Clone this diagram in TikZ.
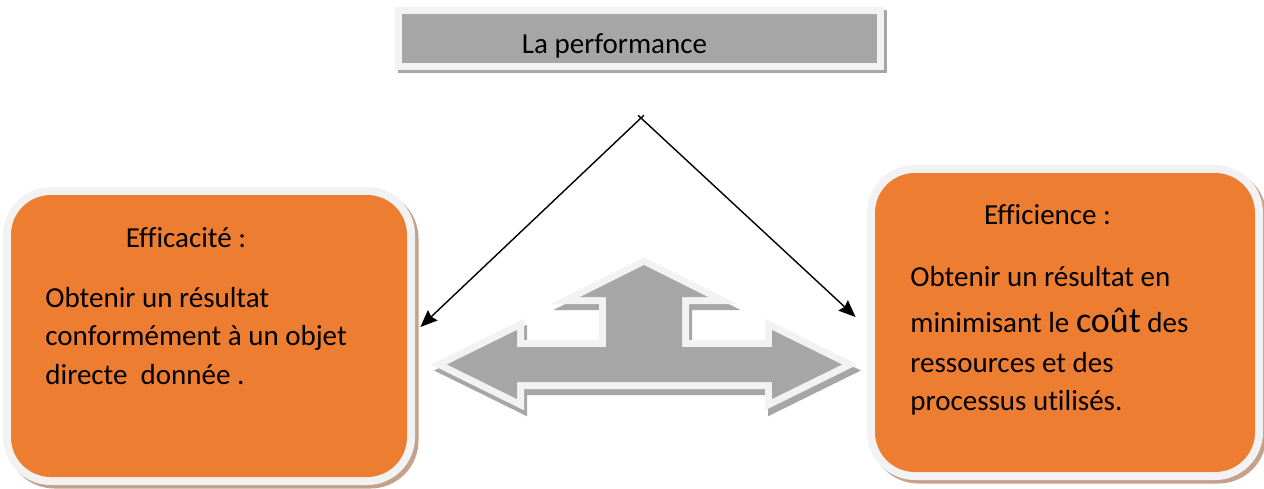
\documentclass[tikz,border=0pt]{standalone}
\usepackage{fontspec}
\setmainfont{Carlito}[Ligatures=NoCommon]
\usetikzlibrary{arrows.meta, positioning}
\definecolor{boxorange}{HTML}{ED7D31}
\definecolor{framegray}{HTML}{F2F2F2}
\definecolor{midgray}{HTML}{A6A6A6}
\definecolor{shadowbrown}{HTML}{C4A18A}

\begin{document}
\begin{tikzpicture}[
        x=0.5pt, y=-0.5pt,
        titlebox/.style={rectangle, fill=midgray, minimum width=237.5pt, minimum height=24.5pt, inner sep=0pt,
            preaction={draw=midgray, fill=midgray, line width=7pt, transform canvas={xshift=1.5pt, yshift=-1.5pt}},
            preaction={draw=framegray, line width=7pt}},
        sidebox/.style={rectangle, rounded corners=20pt, fill=boxorange, inner sep=0pt,
            preaction={draw=shadowbrown, fill=shadowbrown, line width=8pt, transform canvas={xshift=1.75pt, yshift=-1.75pt}},
            preaction={draw=framegray, line width=8pt}},
        threeway/.style={fill=midgray, line join=miter,
            preaction={draw=midgray, fill=midgray, line width=7pt, transform canvas={xshift=1.5pt, yshift=-3pt}},
            preaction={draw=framegray, line width=7pt}},
        heading/.style={font=\fontsize{14.5}{17}\selectfont, inner sep=0pt},
        body/.style={font=\fontsize{14.5}{19.2}\selectfont, align=left, inner sep=0pt},
        arrow/.style={-{Stealth[length=8.5pt, width=7pt, inset=1pt]}, line width=0.7pt}
        ]
        \useasboundingbox (0,0) rectangle (1264,488);

        % Boxes
        \node (perf) [titlebox] at (639.5,38.5) {};
        \node (efficacite) [sidebox, minimum width=198pt, minimum height=141pt] at (209,336) {};
        \node (efficience) [sidebox, minimum width=190pt, minimum height=149.5pt] at (1065,322.5) {};

        % Texts (base = last line)
        \node (perf-txt) [heading, anchor=base] at (614.5,53) {La performance};
        \node (efficacite-title) [heading, anchor=base] at (186,247) {Efficacité :};
        \node (efficacite-txt) [body, anchor=base west] at (45,384)
            {Obtenir un résultat\\conformément à un objet\\directe~ donnée .};
        \node (efficience-title) [heading, anchor=base] at (1047.5,224) {Efficience :};
        \node (efficience-txt) [body, anchor=base west] at (910,410.5)
            {Obtenir un résultat en\\[3.8pt]minimisant le {\fontsize{18}{19.2}\selectfont coût} des\\[0.8pt]ressources et des\\processus utilisés.};

        % Three-way arrow
        \path[threeway] (644,265) -- (708,297) -- (682,297) -- (682,347) -- (772,347) -- (772,330)
            -- (842,364.5) -- (772,399) -- (772,382) -- (517,382) -- (517,399) -- (447,364.5)
            -- (517,330) -- (517,347) -- (606,347) -- (606,297) -- (580,297) -- cycle;

        % Arrows
        \coordinate (apex) at (641,118);
        \draw [arrow, shorten <=-2pt] (apex) -- ([xshift=6.5pt, yshift=4.5pt]efficacite.east);
        \draw [arrow, shorten <=-2pt] (apex) -- ([xshift=-9.5pt, yshift=2.75pt]efficience.west);

    \end{tikzpicture}
\end{document}
